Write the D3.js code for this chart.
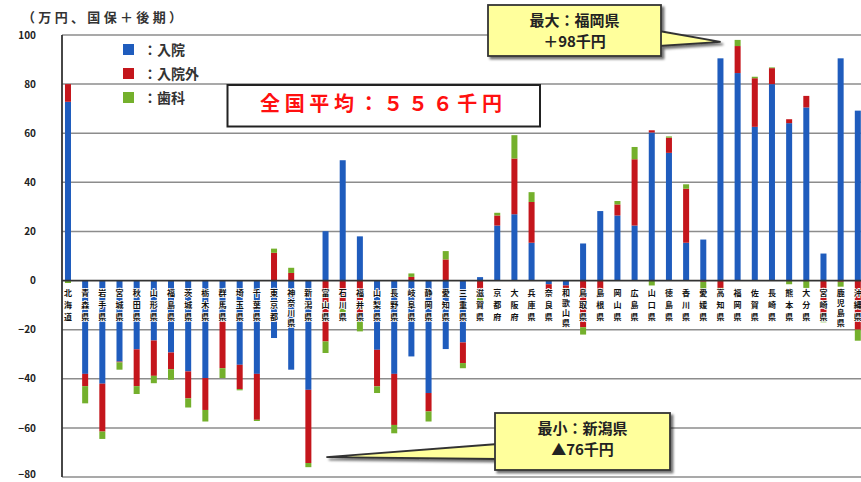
<!DOCTYPE html>
<html>
<head>
<meta charset="utf-8">
<script src="https://cdn.jsdelivr.net/npm/d3@7"></script>
<style>
  html, body { margin: 0; padding: 0; background: #fff; }
  svg { display: block; }
  text { font-family: "Noto Sans CJK JP", "Liberation Sans", sans-serif; }
</style>
</head>
<body>
<svg id="chart" width="861" height="482"></svg>
<script>
// Prefectures, in the usual north-to-south order
const prefectures = ["北海道","青森県","岩手県","宮城県","秋田県","山形県","福島県","茨城県","栃木県","群馬県",
  "埼玉県","千葉県","東京都","神奈川県","新潟県","富山県","石川県","福井県","山梨県","長野県",
  "岐阜県","静岡県","愛知県","三重県","滋賀県","京都府","大阪府","兵庫県","奈良県","和歌山県",
  "鳥取県","島根県","岡山県","広島県","山口県","徳島県","香川県","愛媛県","高知県","福岡県",
  "佐賀県","長崎県","熊本県","大分県","宮崎県","鹿児島県","沖縄県"];

// Deviation from the national average, by component
const inpatient  = [72.8,-38,-42,-33,-28,-24.4,-29.3,-37,-39.7,-14.5,
  -34.3,-38,-23.4,-36.3,-44.5,20.1,49,18,-28.2,-38,
  -30.9,-45.8,-27.9,-25.2,1.4,22.4,27,15.4,-1.5,-2,
  15.1,28.3,26.5,22.4,60.3,52,15.4,16.7,90.5,84.5,
  62.6,80,64.1,70.5,11,90.5,69.2];
const outpatient = [7.2,-5,-19.5,-0.3,-15,-14.4,-6.8,-11,-13,-21.2,
  -9.9,-18.7,11.3,3.1,-29.8,-24.8,-9,-16,-14.9,-20.8,
  1.5,-7.5,8.6,-8.4,-7,4.1,22.7,16.6,-4,-1,
  -19,-5,4.5,27,0.9,6.2,22,-0.5,-3,11,
  19.8,6.5,1.6,4.7,-16,-0.5,-20];
const dental     = [-1,-7,-3,-3,-3.2,-3,-4.3,-3.7,-4.7,-4,
  -0.5,-0.5,1.7,2.1,-1.7,-4.7,-4,-4.7,-2.7,-3.4,
  1.4,-4.1,3.4,-2.1,-1.5,1.1,9.5,4,-0.5,-1,
  -3,-0.5,1.4,5,-2,0.5,1.8,-3,-0.5,2.5,
  0.6,0.3,-1.5,-3,-1,-2,-4.5];

const seriesNames = ["入院","入院外","歯科"];
const seriesColors = ["#1f5cbd","#c4161c","#74b02c"];
const yTicks = [100,80,60,40,20,0,-20,-40,-60,-80];

const unitLabel = "（万円、国保＋後期）";
const averageLabel = "全国平均：５５６千円";
const maxLines = ["最大：福岡県","＋98千円"];
const minLines = ["最小：新潟県","▲76千円"];

const rows = prefectures.map((p, i) => ({
  pref: p, "入院": inpatient[i], "入院外": outpatient[i], "歯科": dental[i]
}));

const svg = d3.select("#chart");

const y = d3.scaleLinear().domain([-80, 100]).range([477, 35]);
const x = d3.scaleBand().domain(prefectures).range([59.4, 866.4])
  .paddingInner(0.65).paddingOuter(0.325);
const color = d3.scaleOrdinal().domain(seriesNames).range(seriesColors);

// gridlines
svg.append("g").selectAll("line").data(yTicks.filter(t => t !== 0)).join("line")
  .attr("x1", 62).attr("x2", 861)
  .attr("y1", d => y(d)).attr("y2", d => y(d))
  .attr("stroke", "#8c8c8c").attr("stroke-width", 1.5);

// y axis labels
const yAxis = d3.axisLeft(y).tickValues(yTicks).tickSize(0).tickPadding(0);
const ya = svg.append("g").attr("transform", "translate(36,0)").call(yAxis);
ya.select(".domain").remove();
ya.selectAll("text").attr("font-size", 10).attr("font-weight", "bold")
  .attr("fill", "#222").attr("font-family", "'Liberation Sans', Arial, sans-serif");
// keep the lowest label inside the frame
ya.selectAll(".tick").filter(d => d === -80).select("text").attr("dy", "0.05em");

// stacked bars, positives above zero and negatives below
const stacked = d3.stack().keys(seriesNames).offset(d3.stackOffsetDiverging)(rows);
svg.append("g").selectAll("g").data(stacked).join("g")
  .attr("fill", d => color(d.key))
  .selectAll("rect").data(d => d).join("rect")
  .attr("x", d => x(d.data.pref))
  .attr("width", x.bandwidth())
  .attr("y", d => y(Math.max(d[0], d[1])))
  .attr("height", d => Math.abs(y(d[0]) - y(d[1])));

// zero line and vertical axis
svg.append("line").attr("x1", 62).attr("x2", 861).attr("y1", y(0)).attr("y2", y(0))
  .attr("stroke", "#333").attr("stroke-width", 1.8);
svg.append("line").attr("x1", 62).attr("x2", 62).attr("y1", y(100)).attr("y2", y(-80))
  .attr("stroke", "#333").attr("stroke-width", 1.8);

// prefecture names, written vertically just under the zero line
const lab = svg.append("g").selectAll("text").data(prefectures).join("text")
  .attr("font-size", 8).attr("font-weight", "bold").attr("fill", "#111")
  .attr("stroke", "#fff").attr("stroke-width", 1.6).attr("paint-order", "stroke")
  .attr("text-anchor", "middle");
lab.each(function(p) {
  const chars = Array.from(p);
  const step = chars.length > 3 ? 10.3 : 12;
  const cx = x(p) + x.bandwidth() / 2;
  d3.select(this).selectAll("tspan").data(chars).join("tspan")
    .attr("x", cx)
    .attr("y", (c, i) => y(0) + 15 + i * step)
    .text(c => c);
});

// unit label
svg.append("text").attr("x", 22).attr("y", 22).attr("font-size", 13).attr("font-weight", "bold")
  .attr("fill", "#333").attr("textLength", 160).text(unitLabel);

// legend
const leg = svg.append("g").selectAll("g").data(seriesNames).join("g")
  .attr("transform", (d, i) => `translate(123,${44 + i * 24})`);
leg.append("rect").attr("width", 11).attr("height", 11).attr("fill", d => color(d));
leg.append("text").attr("x", 20).attr("y", 11).attr("font-size", 14).attr("font-weight", "bold")
  .attr("fill", "#333").text(d => "：" + d);

// national average box
svg.append("rect").attr("x", 227.5).attr("y", 85).attr("width", 312.5).attr("height", 41.5)
  .attr("fill", "#fff").attr("stroke", "#222").attr("stroke-width", 2);
svg.append("text").attr("x", 260).attr("y", 111).attr("font-size", 20).attr("font-weight", "bold")
  .attr("fill", "#ff1010").attr("textLength", 242).text(averageLabel);

// callouts
const defs = svg.append("defs");
const f = defs.append("filter").attr("id", "shadow").attr("x", "-10%").attr("y", "-10%")
  .attr("width", "130%").attr("height", "140%");
f.append("feDropShadow").attr("dx", 2.5).attr("dy", 2.5).attr("stdDeviation", 1.2)
  .attr("flood-color", "#000").attr("flood-opacity", 0.55);

function callout(box, tail, lines) {
  const g = svg.append("g").attr("filter", "url(#shadow)");
  g.append("polygon").attr("points", tail.map(p => p.join(",")).join(" "))
    .attr("fill", "#ffff9c").attr("stroke", "#333").attr("stroke-width", 1.8);
  g.append("rect").attr("x", box[0]).attr("y", box[1]).attr("width", box[2]).attr("height", box[3])
    .attr("fill", "#ffff9c").attr("stroke", "#333").attr("stroke-width", 1.8);
  const t = svg.append("g");
  lines.forEach((s, i) => {
    t.append("text").attr("x", box[0] + box[2] / 2).attr("y", box[1] + 21 + i * 21)
      .attr("text-anchor", "middle").attr("font-size", 15).attr("font-weight", "bold")
      .attr("fill", "#222").text(s);
  });
}

const maxPref = prefectures.indexOf("福岡県");
const maxTop = inpatient[maxPref] + outpatient[maxPref] + dental[maxPref];
callout([488, 5, 173, 51],
  [[659, 31], [x("福岡県") - 14, y(maxTop) + 2], [659, 46]], maxLines);

const minPref = prefectures.indexOf("新潟県");
const minBottom = inpatient[minPref] + outpatient[minPref] + dental[minPref];
callout([495, 413, 175, 57],
  [[498, 444], [x("新潟県") + x.bandwidth() + 15, y(minBottom) - 10], [498, 459]], minLines);
</script>
</body>
</html>
